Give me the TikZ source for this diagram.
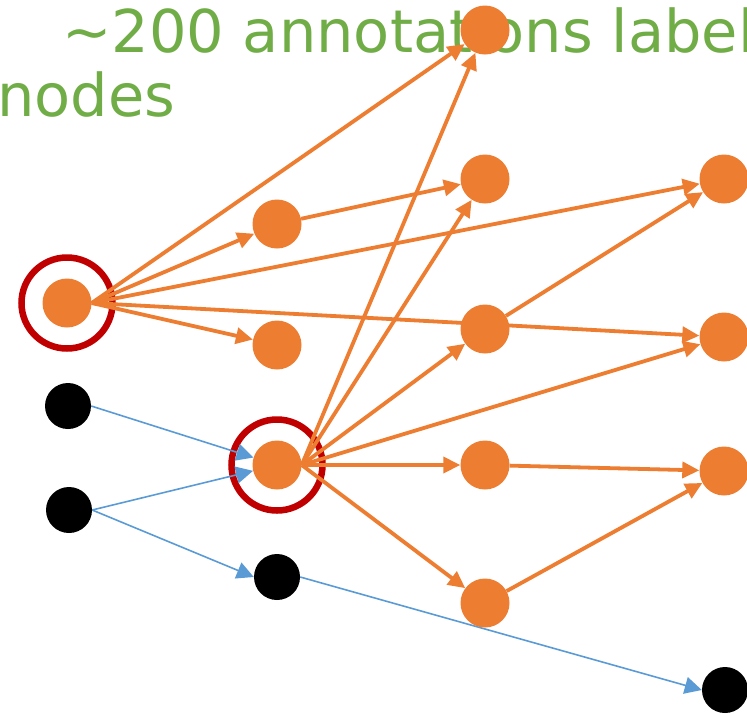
\documentclass[tikz,border=0pt]{standalone}
\usepackage{fontspec}
\newfontfamily\dejavu{DejaVu Sans}
\usetikzlibrary{arrows.meta}
\definecolor{org}{HTML}{ED7D31}
\definecolor{blu}{HTML}{5B9BD5}
\definecolor{rring}{HTML}{C00000}
\definecolor{grn}{HTML}{70AD47}
\pgfdeclarelayer{background}
\pgfsetlayers{background,main}
\tikzset{
  onode/.style={circle, fill=org, inner sep=0pt, minimum size=49pt},
  knode/.style={circle, fill=black, inner sep=0pt, minimum size=46pt},
  oarr/.style={draw=org, line width=3.8pt, -{Triangle[length=17pt,width=16pt]}},
  barr/.style={draw=blu, line width=1.6pt, -{Triangle[length=17pt,width=17pt]}},
  ring/.style={draw=rring, line width=6.5pt},
  title/.style={inner sep=0pt, text=grn, font=\dejavu\fontsize{59}{66}\selectfont}
}
\begin{document}
\begin{tikzpicture}[x=1pt,y=-1pt]
\useasboundingbox (0,0) rectangle (747,713);
% nodes
\node[onode] (A) at (67,303) {};
\node[onode] (B) at (277,224) {};
\node[onode] (C) at (277,345) {};
\node[onode] (D) at (277,465) {};
\node[onode] (E1) at (485,30) {};
\node[onode] (E2) at (485,179) {};
\node[onode] (E3) at (485,329) {};
\node[onode] (E4) at (485,465) {};
\node[onode] (E5) at (485,603) {};
\node[onode] (F1) at (724,179) {};
\node[onode] (F2) at (724,337) {};
\node[onode] (F3) at (724,471) {};
\node[knode] (K1) at (68,406) {};
\node[knode] (K2) at (69,510) {};
\node[knode] (K3) at (277,577) {};
\node[knode] (K4) at (725,690) {};
\begin{pgfonlayer}{background}
\node[title, anchor=base west] (t1) at (62,52) {\textasciitilde200 annotations labeled};
\node[title, anchor=base west] (t2) at (-3,116) {nodes};
\node[ring, circle, minimum size=91pt, inner sep=0pt] (RA) at (A) {};
\node[ring, circle, minimum size=91pt, inner sep=0pt] (RD) at (D) {};
% orange edges
\draw[oarr] (A.east) -- (E1);
\draw[oarr] (A.east) -- (B);
\draw[oarr] (A.east) -- (F1);
\draw[oarr] (A.east) -- (F2);
\draw[oarr] (A.east) -- (C);
\draw[oarr] (B) -- (E2);
\draw[oarr] (D.east) -- (E1);
\draw[oarr] (D.east) -- (E2);
\draw[oarr] (D.east) -- (E3);
\draw[oarr] (D.east) -- (F2);
\draw[oarr] (D.east) -- (E4);
\draw[oarr] (D.east) -- (E5);
\draw[oarr] (E3) -- (F1);
\draw[oarr] (E4) -- (F3);
\draw[oarr] (E5) -- (F3);
% blue edges
\draw[barr] (K1.east) -- (D);
\draw[barr] (K2.east) -- (D);
\draw[barr] (K2.east) -- (K3.west);
\draw[barr] (K3.east) -- (K4.west);
\end{pgfonlayer}
\end{tikzpicture}
\end{document}
